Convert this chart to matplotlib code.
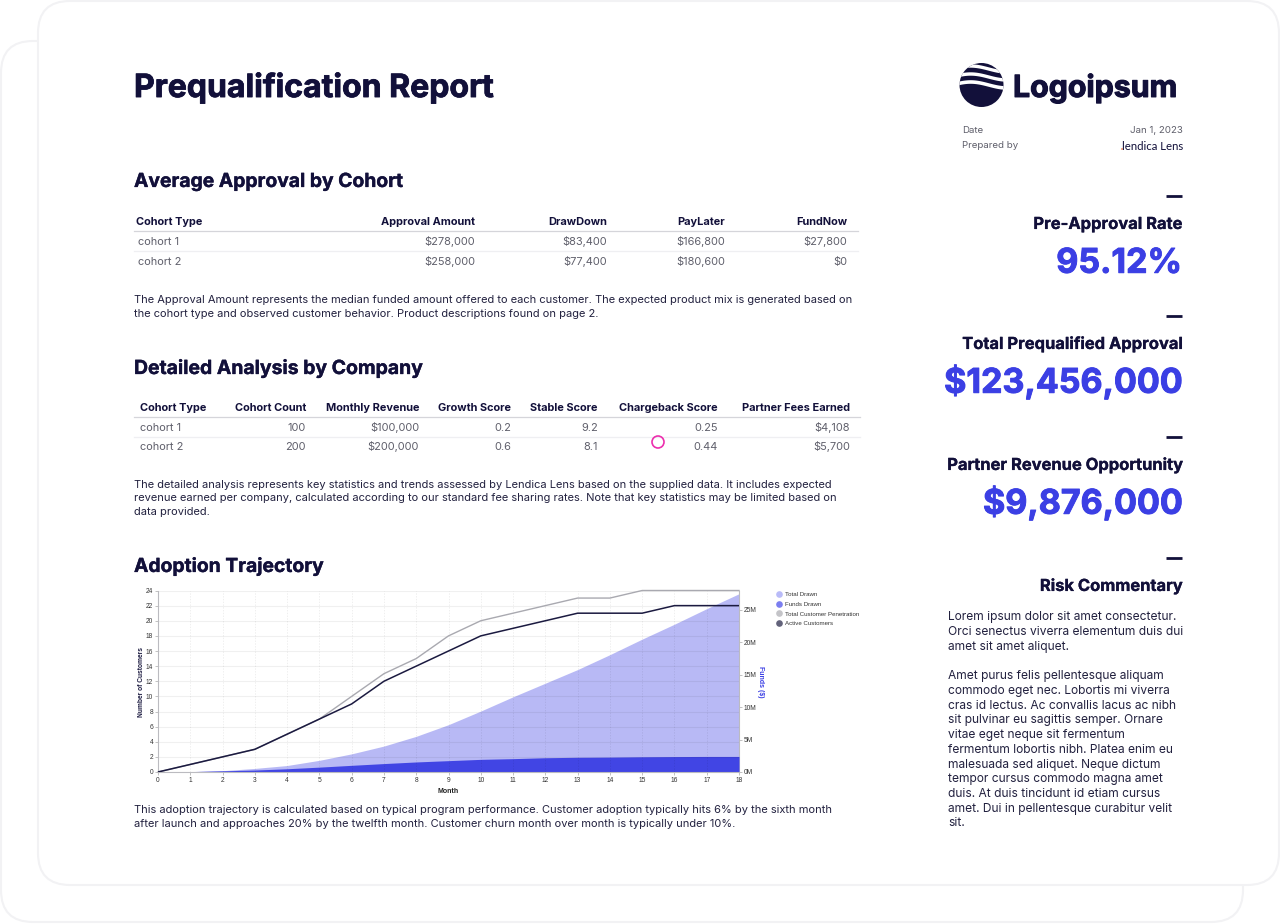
import numpy as np
import matplotlib
matplotlib.use('Agg')
import matplotlib.pyplot as plt
import matplotlib.patheffects as pe
from matplotlib.patches import FancyBboxPatch, Circle, Polygon
from matplotlib.lines import Line2D

plt.rcParams['font.family'] = ['Inter', 'DejaVu Sans']

# chart data
months = list(range(19))
total_drawn = [0, 0.05, 0.2, 0.55, 1.0, 1.8, 2.8, 4.0, 5.5, 7.3, 9.4, 11.6, 13.7, 15.8, 18.1, 20.5, 22.8, 25.2, 27.5]
funds_drawn = [0, 0.06, 0.18, 0.3, 0.5, 0.75, 1.03, 1.3, 1.55, 1.75, 1.95, 2.06, 2.2, 2.27, 2.3, 2.35, 2.38, 2.4, 2.4]
total_penetration = [0, 1, 2, 3, 5, 7, 10, 13, 15, 18, 20, 21, 22, 23, 23, 24, 24, 24, 24]
active_customers = [0, 1, 2, 3, 5, 7, 9, 12, 14, 16, 18, 19, 20, 21, 21, 21, 22, 22, 22]

# table data
table1_header = ['Cohort Type', 'Approval Amount', 'DrawDown', 'PayLater', 'FundNow']
table1_rows = [['cohort 1', '$278,000', '$83,400', '$166,800', '$27,800'],
               ['cohort 2', '$258,000', '$77,400', '$180,600', '$0']]
table2_header = ['Cohort Type', 'Cohort Count', 'Monthly Revenue', 'Growth Score', 'Stable Score',
                 'Chargeback Score', 'Partner Fees Earned']
table2_rows = [['cohort 1', '100', '$100,000', '0.2', '9.2', '0.25', '$4,108'],
               ['cohort 2', '200', '$200,000', '0.6', '8.1', '0.44', '$5,700']]

# side panel
kpi_labels = ['Pre-Approval Rate', 'Total Prequalified Approval', 'Partner Revenue Opportunity']
kpi_values = ['95.12%', '$123,456,000', '$9,876,000']

para1 = ['The Approval Amount represents the median funded amount offered to each customer. The expected product mix is generated based on',
         'the cohort type and observed customer behavior. Product descriptions found on page 2.']
para2 = ['The detailed analysis represents key statistics and trends assessed by Lendica Lens based on the supplied data. It includes expected',
         'revenue earned per company, calculated according to our standard fee sharing rates. Note that key statistics may be limited based on',
         'data provided.']
para3 = ['This adoption trajectory is calculated based on typical program performance. Customer adoption typically hits 6% by the sixth month',
         'after launch and approaches 20% by the twelfth month. Customer churn month over month is typically under 10%.']
risk1 = ['Lorem ipsum dolor sit amet consectetur.', 'Orci senectus viverra elementum duis dui', 'amet sit amet aliquet.']
risk2 = ['Amet purus felis pellentesque aliquam', 'commodo eget nec. Lobortis mi viverra', 'cras id lectus. Ac convallis lacus ac nibh',
         'sit pulvinar eu sagittis semper. Ornare', 'vitae eget neque sit fermentum', 'fermentum lobortis nibh. Platea enim eu',
         'malesuada sed aliquet. Neque dictum', 'tempor cursus commodo magna amet', 'duis. At duis tincidunt id etiam cursus',
         'amet. Dui in pellentesque curabitur velit', 'sit.']

NAVY = '#12103A'
BODY = '#22213F'
GREY = '#5F5F6B'
BLUE = '#3B3FE4'

fig = plt.figure(figsize=(12.8, 9.24), dpi=100, facecolor='white')

# page layer in pixel coordinates
page = fig.add_axes([0, 0, 1, 1])
page.set_xlim(0, 1280)
page.set_ylim(924, 0)
page.axis('off')


def txt(x, y, s, px, color=BODY, weight='normal', ha='left', stroke=0):
    # y is the middle of the capitals, so digits and commas share one baseline
    t = page.text(x, y + 0.36 * px, s, fontsize=px * 0.72, color=color, fontweight=weight, ha=ha, va='baseline')
    if stroke:
        t.set_path_effects([pe.withStroke(linewidth=stroke, foreground=color)])


def card(x0, y0, x1, y1):
    r = 32
    page.add_patch(FancyBboxPatch((x0 + r, y0 + r), x1 - x0 - 2 * r, y1 - y0 - 2 * r,
                                  boxstyle='round,pad=%d,rounding_size=%d' % (r, r),
                                  fc='white', ec='#F2F2F4', lw=1.5))


card(1, 41, 1243, 922)
card(38, 1, 1279, 885)

txt(134, 85.5, 'Prequalification Report', 32, NAVY, 'bold', stroke=0.6)
txt(134, 180, 'Average Approval by Cohort', 19.3, NAVY, 'bold', stroke=0.25)
txt(134, 367, 'Detailed Analysis by Company', 19.4, NAVY, 'bold', stroke=0.25)
txt(134, 565, 'Adoption Trajectory', 19.3, NAVY, 'bold', stroke=0.25)


def table(header, rows, xs, y_head, y_rows, x0, x1, head_x):
    for i, h in enumerate(header):
        txt(xs[i] if i else head_x, y_head, h, 11, NAVY, 'bold', ha='left' if i == 0 else 'right')
    page.plot([x0, x1], [y_head + 10, y_head + 10], color='#D5D5DA', lw=0.9)
    page.plot([x0, x1], [(y_rows[0] + y_rows[1]) / 2] * 2, color='#EFEFF2', lw=0.9)
    for row, y in zip(rows, y_rows):
        for i, v in enumerate(row):
            txt(xs[i], y, v, 11, GREY, ha='left' if i == 0 else 'right')


table(table1_header, table1_rows, [138, 475, 607, 725, 847], 221, [241, 261], 134, 858, 136)
table(table2_header, table2_rows, [140, 306, 419, 511, 598, 718, 850], 407, [427, 446], 134, 860, 140)

for lines, ys in [(para1, [299, 313]), (para2, [484, 497, 511]), (para3, [809, 823])]:
    for s, y in zip(lines, ys):
        txt(134, y, s, 11.1, BODY)

# cursor mark
page.add_patch(Circle((658, 442), 6, fc='none', ec='#EC2FAE', lw=1.2, zorder=6))

# logo
logo_clip = Circle((981.5, 85), 22, transform=page.transData)
page.add_patch(Circle((981.5, 85), 22, fc=NAVY, ec='none'))
wave_x = np.linspace(958, 1005, 80)
wave = -3 * np.sin(np.pi * (1.3 * (wave_x - 958) / 47 + 0.15))
for y_mid, h in [(69, 1.7), (77, 1.7), (85, 1.8)]:
    pts = np.r_[np.c_[wave_x, y_mid + wave - h], np.c_[wave_x[::-1], (y_mid + wave + h)[::-1]]]
    band = Polygon(pts, fc='white', ec='none')
    page.add_patch(band)
    band.set_clip_path(logo_clip)
txt(1013, 86, 'Logoipsum', 30.3, NAVY, 'bold', stroke=0.8)

txt(962, 130, 'Date', 9.7, GREY)
txt(962, 145, 'Prepared by', 9.7, GREY)
txt(1183, 130, 'Jan 1, 2023', 9.7, GREY, ha='right')
page.text(1183, 146, 'lendica Lens', fontsize=8.2, color=NAVY, family='Lato', ha='right', va='center')
page.add_patch(Circle((1122, 149), 0.8, fc='#F0662A', ec='none'))

# side panel
for label, value, y in zip(kpi_labels, kpi_values, [223, 343, 464]):
    page.plot([1166, 1182], [y - 27, y - 27], color=NAVY, lw=2, solid_capstyle='butt')
    txt(1182, y, label, 16.5, NAVY, 'bold', ha='right', stroke=0.2)
    txt(1182, y + 37.5, value, 34, BLUE, 'bold', ha='right', stroke=0.7)
page.plot([1166, 1182], [558, 558], color=NAVY, lw=2, solid_capstyle='butt')
txt(1182, 585, 'Risk Commentary', 16.5, NAVY, 'bold', ha='right', stroke=0.2)
for i, s in enumerate(risk1):
    txt(948, 616 + i * 14.6, s, 12.0, BODY)
for i, s in enumerate(risk2):
    txt(948, 675 + i * 14.7, s, 12.0, BODY)

# chart
ax = fig.add_axes([158 / 1280, 1 - 772 / 924, 581 / 1280, 181.5 / 924])
ax2 = ax.twinx()
chart_font = 'Liberation Sans'

ax2.fill_between(months, total_drawn, color=BLUE, alpha=0.36, lw=0, zorder=2)
ax2.fill_between(months, funds_drawn, color=BLUE, alpha=0.95, lw=0, zorder=3)
ax2.set_ylim(0, 28)
ax2.set_yticks([0, 5, 10, 15, 20, 25], ['0M', '5M', '10M', '15M', '20M', '25M'])
ax2.set_ylabel('Funds ($)', fontsize=5, color=BLUE, fontweight='bold', family=chart_font, rotation=270)
ax2.yaxis.set_label_coords(1.0 + 25 / 581, 0.495)

ax.set_zorder(ax2.get_zorder() + 1)
ax.patch.set_visible(False)
ax.plot(months, total_penetration, color='#A9A9B0', lw=1.0, zorder=4, clip_on=False)
ax.plot(months, active_customers, color='#1B1A40', lw=1.1, zorder=5)
ax.set_xlim(0, 18)
ax.set_ylim(0, 24)
ax.set_xticks(months)
ax.set_yticks(range(0, 25, 2))
# translucent grid so it stays faintly visible through the areas
ax.grid(axis='y', color='black', alpha=0.06, lw=0.8)
ax.grid(axis='x', color='black', alpha=0.09, lw=0.5, ls=(0, (2, 2)))
ax.set_xlabel('Month', fontsize=5, fontweight='bold', family=chart_font, color='#222222')
ax.xaxis.set_label_coords(290 / 581, -16 / 181.5)
ax.set_ylabel('Number of Customers', fontsize=4.8, fontweight='bold', family=chart_font, color='#1B1A40')
ax.yaxis.set_label_coords(-13 / 581, 0.495)

for a in (ax, ax2):
    a.spines['top'].set_visible(False)
    a.tick_params(labelsize=4.8, length=2, width=0.5, color='#AAAAAA', labelcolor='#333333', pad=1.5)
    for lab in a.get_xticklabels() + a.get_yticklabels():
        lab.set_family(chart_font)
    for s in a.spines.values():
        s.set_color('#BBBBC0')
        s.set_linewidth(0.8)
ax.spines['right'].set_visible(False)
ax2.spines['left'].set_visible(False)
ax2.spines['bottom'].set_visible(False)

legend_labels = ['Total Drawn', 'Funds Drawn', 'Total Customer Penetration', 'Active Customers']
legend_colors = ['#B9BBF8', '#7B7EF0', '#C4C4C8', '#62627A']
handles = [Line2D([], [], ls='', marker='o', ms=4.8, mfc=c, mec='none', label=l)
           for l, c in zip(legend_labels, legend_colors)]
page.set_zorder(-1)
leg = fig.legend(handles=handles, loc='upper left', bbox_to_anchor=(774 / 1280, 1 - 592 / 924), frameon=False,
                 prop={'family': chart_font, 'size': 4.4}, labelspacing=0.72, handletextpad=0.25, handlelength=1.6,
                 borderpad=0, borderaxespad=0)
for t in leg.get_texts():
    t.set_color('#333333')

fig.savefig('out.png', dpi=100)
